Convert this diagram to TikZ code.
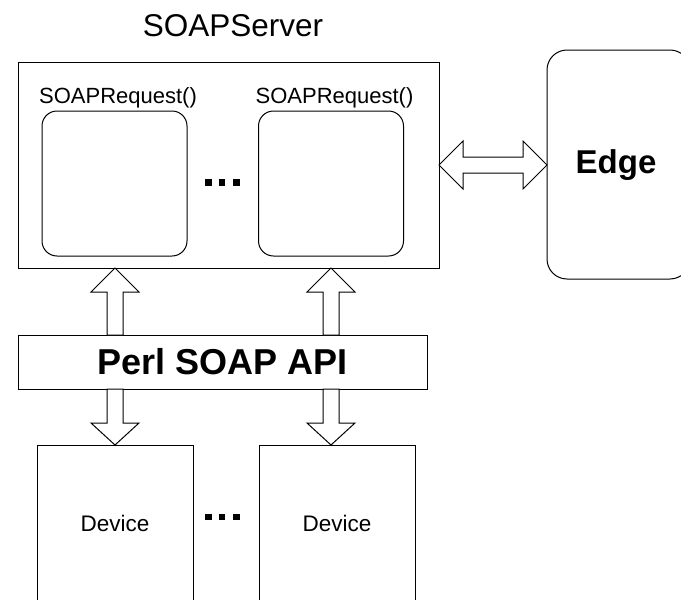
\documentclass[tikz,border=0pt]{standalone}
\usepackage{fontspec}
\setmainfont{Liberation Sans}
\usetikzlibrary{calc}

% hollow block arrows: tip point, then the level where the shaft starts
\newcommand\fatup[2]{%
  \draw[fat] let \p1=#1, \p2=#2 in
    (\x1,\y1) -- (\x1+24pt,\y1-24pt) -- (\x1+8pt,\y1-24pt) -- (\x1+8pt,\y2)
    -- (\x1-8pt,\y2) -- (\x1-8pt,\y1-24pt) -- (\x1-24pt,\y1-24pt) -- cycle;}
\newcommand\fatdown[2]{%
  \draw[fat] let \p1=#1, \p2=#2 in
    (\x1,\y1) -- (\x1+24pt,\y1+22pt) -- (\x1+8pt,\y1+22pt) -- (\x1+8pt,\y2)
    -- (\x1-8pt,\y2) -- (\x1-8pt,\y1+22pt) -- (\x1-24pt,\y1+22pt) -- cycle;}
\newcommand\fatboth[2]{%
  \draw[fat] let \p1=#1, \p2=#2 in
    (\x1,\y1) -- (\x1+24pt,\y1+24pt) -- (\x1+24pt,\y1+8pt) -- (\x2-24pt,\y1+8pt)
    -- (\x2-24pt,\y1+24pt) -- (\x2,\y1) -- (\x2-24pt,\y1-24pt) -- (\x2-24pt,\y1-8pt)
    -- (\x1+24pt,\y1-8pt) -- (\x1+24pt,\y1-24pt) -- cycle;}

\begin{document}
\begin{tikzpicture}[x=1pt,y=-1pt,
  box/.style={draw, line width=1pt, inner sep=0pt, outer sep=0pt, fill=white},
  reqbox/.style={box, rounded corners=15pt, minimum width=145pt, minimum height=145pt},
  devbox/.style={box, anchor=north, minimum width=156pt, minimum height=157pt,
                 font=\fontsize{22.5}{27}\selectfont},
  small/.style={font=\fontsize{22}{26}\selectfont, inner sep=0pt},
  dotsq/.style={fill=black, inner sep=0pt, minimum size=6.5pt},
  fat/.style={draw, line width=1pt, fill=white, line join=miter}]

\useasboundingbox (0,0) rectangle (681,600);
\clip (0,0) rectangle (681,600);
\fill[white] (0,0) rectangle (681,600);

% server with its request handlers
\node[box, minimum width=421pt, minimum height=206pt] (srv) at (228.5,165) {};
\node[font=\fontsize{31.5}{38}\selectfont, inner sep=0pt] (title) at (233,26) {SOAPServer};
\node[reqbox] (req1) at (114.5,183.5) {};
\node[reqbox] (req2) at (331,183.5) {};
\node[small, anchor=base] (lab1) at (118,103) {SOAPRequest()};
\node[small, anchor=base] (lab2) at (334.5,103) {SOAPRequest()};
\node[dotsq] (sd1) at (208.5,182.5) {};
\node[dotsq] (sd2) at (222,182.5) {};
\node[dotsq] (sd3) at (236.5,182.5) {};

% edge
\node[box, rounded corners=20pt, minimum width=143pt, minimum height=229pt] (edge) at (618.5,164.5) {};
\node[font=\bfseries\fontsize{33}{40}\selectfont, inner sep=0pt, anchor=base] (edgelab) at (616,173) {Edge};

% API layer
\node[box, minimum width=409pt, minimum height=54pt,
      font=\bfseries\fontsize{36}{42}\selectfont] (api) at (222.5,362) {Perl SOAP API};

% devices
\node[devbox] (dev1) at (115,445) {Device};
\node[devbox] (dev2) at (337,445) {Device};
\node[dotsq] (dd1) at (208.5,517) {};
\node[dotsq] (dd2) at (222,517) {};
\node[dotsq] (dd3) at (236.5,517) {};

% block arrows
\coordinate (lx) at (115,0);
\coordinate (rx) at (331,0);
\fatup{(lx |- srv.south)}{(lx |- api.north)}
\fatup{(rx |- srv.south)}{(rx |- api.north)}
\fatdown{(lx |- dev1.north)}{(lx |- api.south)}
\fatdown{(rx |- dev2.north)}{(rx |- api.south)}
\fatboth{(srv.east)}{(edge.west |- srv.east)}

\end{tikzpicture}
\end{document}
